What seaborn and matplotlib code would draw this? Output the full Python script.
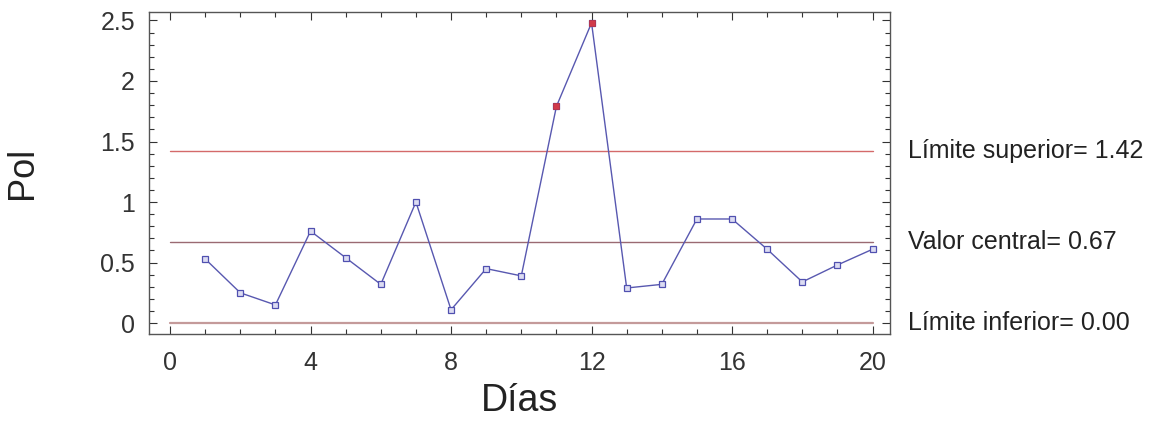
import numpy as np
import pandas as pd
import matplotlib
matplotlib.use("Agg")
import matplotlib.pyplot as plt
from matplotlib.ticker import MultipleLocator
import seaborn as sns

# Daily Pol readings for the control chart
dias = list(range(1, 21))
pol = [0.53, 0.25, 0.15, 0.76, 0.54, 0.32, 1.00, 0.11, 0.45, 0.39,
       1.79, 2.48, 0.29, 0.32, 0.86, 0.86, 0.61, 0.34, 0.48, 0.61]

# Control limits
lim_sup = 1.42
centro = 0.67
lim_inf = 0.00
etiquetas = ["Límite superior= 1.42", "Valor central= 0.67", "Límite inferior= 0.00"]

sns.set_style("ticks")
plt.rcParams["font.family"] = ["Liberation Sans", "DejaVu Sans"]

df = pd.DataFrame({"Días": dias, "Pol": pol})
df["fuera"] = df["Pol"] > lim_sup

fig = plt.figure(figsize=(11.53, 4.24), dpi=100)
ax = fig.add_axes([0.1292, 0.2123, 0.6428, 0.7594])

# Control lines
ax.plot([0, 20], [lim_sup, lim_sup], color="#d46a6a", lw=1.0, zorder=1)
ax.plot([0, 20], [centro, centro], color="#9a6a72", lw=1.0, zorder=1)
ax.plot([0, 20], [lim_inf, lim_inf], color="#c49a9a", lw=1.6, zorder=1)

sns.lineplot(data=df, x="Días", y="Pol", ax=ax, color="#5858b0", lw=1.0,
             marker="s", markersize=5, markerfacecolor="#dcdcf2",
             markeredgecolor="#5050b0", markeredgewidth=0.9, zorder=3)
sns.scatterplot(data=df[df["fuera"]], x="Días", y="Pol", ax=ax, color="#d03a4a",
                marker="s", s=14, edgecolor="#c03040", linewidth=0.5, zorder=4)

ax.set_xlim(-0.6, 20.5)
ax.set_ylim(-0.09, 2.57)
ax.xaxis.set_major_locator(MultipleLocator(4))
ax.xaxis.set_minor_locator(MultipleLocator(1))
ax.yaxis.set_major_locator(MultipleLocator(0.5))
ax.yaxis.set_minor_locator(MultipleLocator(0.1))
ax.set_yticks([0, 0.5, 1, 1.5, 2, 2.5])
ax.set_yticklabels(["0", "0.5", "1", "1.5", "2", "2.5"])
ax.tick_params(which="both", direction="in", top=True, right=True,
               color="#333333", labelsize=18, labelcolor="#333333")
ax.tick_params(which="major", length=6, width=0.8, pad=10)
ax.tick_params(which="minor", length=3.5, width=0.8)
ax.tick_params(axis="x", which="major", pad=12)
for s in ax.spines.values():
    s.set_color("#555555")
    s.set_linewidth(1.0)

ax.set_xlabel("Días", fontsize=27, color="#222222", labelpad=6)
ax.set_ylabel("Pol", fontsize=26, color="#222222")
ax.yaxis.set_label_coords(-0.147, 0.5)

for val, txt in zip([lim_sup, centro, lim_inf], etiquetas):
    ax.annotate(txt, xy=(1.0, val), xycoords=("axes fraction", "data"),
                xytext=(13, 0), textcoords="offset points", va="center",
                ha="left", fontsize=18, color="#222222", annotation_clip=False)

fig.savefig("out.png", dpi=100, facecolor="white")
